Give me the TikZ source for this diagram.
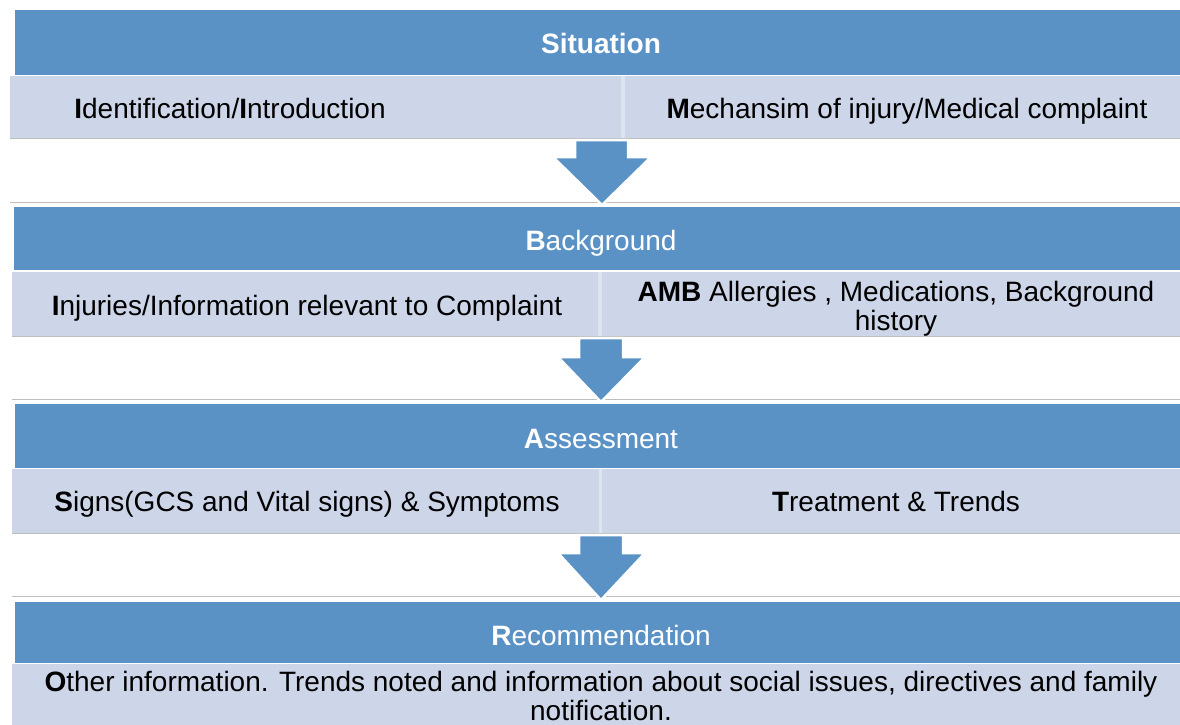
\documentclass[tikz,border=0pt]{standalone}
\usepackage{fontspec}
\setmainfont{Liberation Sans}
\definecolor{hblue}{HTML}{5B92C6}
\definecolor{lblue}{HTML}{CDD6E8}
\definecolor{lgap}{HTML}{DDE3EF}
\definecolor{gline}{HTML}{BDBDBD}
\begin{document}
\begin{tikzpicture}[x=1pt,y=-1pt,
  hdrbox/.style={fill=hblue, draw=none},
  subbox/.style={fill=lblue, draw=none},
  gapline/.style={draw=lgap, line width=3.5pt},
  sepline/.style={draw=gline, line width=1pt},
  hdrtext/.style={text=white, font=\fontsize{28}{29}\selectfont, inner sep=0pt},
  subtext/.style={text=black, font=\fontsize{28}{29}\selectfont, align=center, inner sep=0pt},
  bigarrow/.style={fill=hblue, draw=white, line width=2.5pt, line join=miter}]
\useasboundingbox[fill=white] (0,0) rectangle (1180,725);

% Band 1
\fill[hdrbox] (15,10) rectangle (1180,75);
\fill[subbox] (10,76) rectangle (1180,138);
\draw[gapline] (623,76) -- (623,138);
\draw[sepline] (10,138.5) -- (1180,138.5);
\draw[sepline] (10,202) -- (1180,202);
% Band 2
\fill[hdrbox] (14,207) rectangle (1180,270);
\fill[subbox] (12,272) rectangle (1180,336);
\draw[gapline] (600,272) -- (600,336);
\draw[sepline] (12,336.5) -- (1180,336.5);
\draw[sepline] (12,399) -- (1180,399);
% Band 3
\fill[hdrbox] (15,404) rectangle (1180,468);
\fill[subbox] (12,469) rectangle (1180,533);
\draw[gapline] (600.5,469) -- (600.5,533);
\draw[sepline] (12,533.5) -- (1180,533.5);
\draw[sepline] (12,596) -- (1180,596);
% Band 4
\fill[hdrbox] (15,602) rectangle (1180,663);
\fill[subbox] (12,664) rectangle (1180,725);

% Arrows
\draw[bigarrow] (575,140) -- (628,140) -- (628,157) -- (651,157) -- (602,205) -- (553,157) -- (575,157) -- cycle;
\draw[bigarrow] (579,338) -- (623,338) -- (623,357) -- (645,357) -- (601,402) -- (558,357) -- (579,357) -- cycle;
\draw[bigarrow] (579,535) -- (623,535) -- (623,553) -- (645,553) -- (601,600) -- (558,553) -- (579,553) -- cycle;

% Texts
\node[hdrtext, anchor=base] (sit) at (601,53) {\textbf{Situation}};
\node[subtext, anchor=base] (idi) at (230,118) {\textbf{I}dentification/\textbf{I}ntroduction};
\node[subtext, anchor=base] (moi) at (907,118) {\textbf{M}echansim of injury/Medical complaint};

\node[hdrtext, anchor=base] (bkg) at (601,250) {\textbf{B}ackground};
\node[subtext, anchor=base] (inj) at (307,315) {\textbf{I}njuries/Information relevant to Complaint};
\node[subtext] (amb) at (896,309) {\textbf{AMB} Allergies , Medications, Background\\history};

\node[hdrtext, anchor=base] (ass) at (601,448) {\textbf{A}ssessment};
\node[subtext, anchor=base] (sgn) at (307,511) {\textbf{S}igns(GCS and Vital signs) \& Symptoms};
\node[subtext, anchor=base] (trt) at (896,511) {\textbf{T}reatment \& Trends};

\node[hdrtext, anchor=base] (rec) at (601,645) {\textbf{R}ecommendation};
\node[subtext] (oth) at (601,696) {\textbf{O}ther information. Trends noted and information about social issues, directives and family\\notification.};
\end{tikzpicture}
\end{document}
